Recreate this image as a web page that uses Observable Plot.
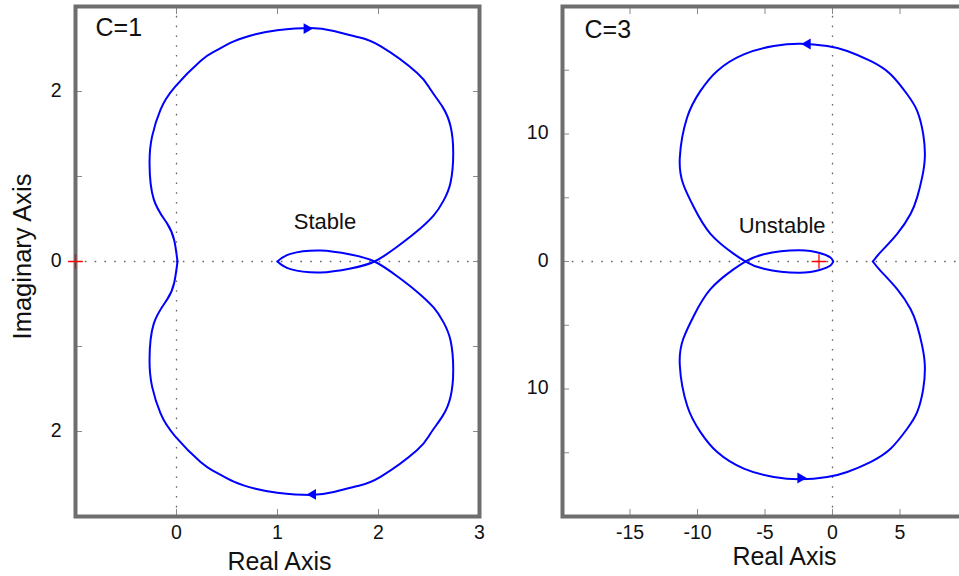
<!DOCTYPE html>
<html>
<head>
<meta charset="utf-8">
<script src="https://cdn.jsdelivr.net/npm/d3@7"></script>
<script src="https://cdn.jsdelivr.net/npm/@observablehq/plot@0.6"></script>
<style>
  html, body { margin: 0; padding: 0; background: #fff; }
  #figure { position: relative; width: 959px; height: 576px; overflow: hidden; background: #fff; }
  #figure > div { position: absolute; top: 0; height: 576px; }
  #figure svg { overflow: visible; max-width: none !important; height: 576px !important; }
</style>
</head>
<body>
<div id="figure">
  <div id="left" style="left:0px; width:490px"></div>
  <div id="right" style="left:480px; width:500px"></div>
</div>
<script>
// Nyquist curve of the loop for C = 1, positive frequencies (from the loop tip to the origin)
const c1Re = [1.0, 1.129, 1.426, 1.723, 1.96, 2.188, 2.366, 2.545, 2.644, 2.713, 2.740, 2.713, 2.634, 2.515, 2.383, 2.020, 1.792, 1.557, 1.327, 0.997, 0.782, 0.567, 0.386, 0.238, -0.015, -0.158, -0.241, -0.267, -0.225, -0.092, -0.022, 0.01];
const c1Im = [0, 0.09, 0.129, 0.082, 0, -0.176, -0.340, -0.540, -0.716, -0.927, -1.279, -1.593, -1.819, -2.023, -2.218, -2.533, -2.641, -2.711, -2.746, -2.720, -2.674, -2.590, -2.477, -2.359, -2.054, -1.788, -1.475, -1.162, -0.731, -0.446, -0.246, 0];

// Nyquist curve for C = 3, positive frequencies (from the kink on the real axis to the loop tip)
const c3Re = [2.99, 3.56, 4.79, 5.78, 6.27, 6.64, 6.84, 6.72, 6.27, 5.53, 4.30, 2.81, 1.09, -0.39, -2.37, -4.35, -6.57, -8.54, -9.78, -10.77, -11.31, -11.06, -10.27, -9.04, -7.31, -6.44, -5.09, -2.49, -0.89, -0.15, 0.05];
const c3Im = [0, 0.73, 2.17, 3.73, 5.03, 6.60, 8.16, 9.99, 11.82, 13.12, 14.69, 15.73, 16.51, 16.90, 17.08, 16.90, 16.25, 14.95, 13.38, 11.29, 8.16, 6.08, 4.25, 2.17, 0.60, 0, -0.57, -0.88, -0.65, -0.31, 0];

// Direction arrows on each curve (angle in degrees, 90 = pointing right)
const c1ArrowRe = [1.29, 1.35];
const c1ArrowIm = [2.74, -2.74];
const c1ArrowAngle = [90, -90];
const c3ArrowRe = [-1.85, -2.37];
const c3ArrowIm = [17.06, -16.98];
const c3ArrowAngle = [-90, 90];

// Critical point -1 + 0j
const criticalRe = [-1];
const criticalIm = [0];

// Axes
const c1XDomain = [-1, 3];
const c1YDomain = [-3, 3];
const c1XTicks = [0, 1, 2, 3];
const c1XTickLabels = ["0", "1", "2", "3"];
const c1YTicks = [2, 1, 0, -1, -2];
const c1YTickLabels = ["2", "", "0", "", "2"];

const c3XDomain = [-20, 10];
const c3YDomain = [-20, 20];
const c3XTicks = [-15, -10, -5, 0, 5];
const c3XTickLabels = ["-15", "-10", "-5", "0", "5"];
const c3YTicks = [15, 10, 5, 0, -5, -10, -15];
const c3YTickLabels = ["", "10", "", "0", "", "10", ""];

// Annotations
const c1Title = "C=1";
const c3Title = "C=3";
const c1Note = {re: 1.47, im: 0.46, text: "Stable"};
const c3Note = {re: -3.73, im: 2.8, text: "Unstable"};
const xLabel = "Real Axis";
const yLabel = "Imaginary Axis";

const FONT = "'Liberation Sans', Arial, Helvetica, sans-serif";
const BLUE = "#0000ff";
const FRAME = "#6e6e6e";
const TICK = "#8a8a8a";
const GRID = "#666666";

// Both frequency branches: the negative one is the complex conjugate
function nyquistRows(re, im) {
  const pos = re.map((r, i) => ({re: r, im: im[i], branch: "pos"}));
  const neg = re.map((r, i) => ({re: r, im: -im[i], branch: "neg"}));
  return pos.concat(neg);
}

function arrows(re, im, angle) {
  return re.map((r, i) => ({re: r, im: im[i], angle: angle[i]}));
}

function panel({width, marginLeft, marginRight, xDomain, yDomain, curve, arrowRows,
                xTicks, xTickLabels, yTicks, yTickLabels, title, titleDx, titleDy,
                note, yAxisLabel, xLabelDx, xLabelDy}) {
  const marks = [
    // dotted zero lines
    Plot.ruleY([0], {stroke: GRID, strokeWidth: 1.3, strokeDasharray: "1.6 8.2"}),
    Plot.ruleX([0], {stroke: GRID, strokeWidth: 1.3, strokeDasharray: "1.6 8.2"}),
    // inward ticks on all four sides
    Plot.axisX(xTicks, {anchor: "bottom", tickSize: 7, dy: -7, stroke: TICK, tickFormat: () => "", label: null}),
    Plot.axisX(xTicks, {anchor: "top", tickSize: 7, dy: 7, stroke: TICK, tickFormat: () => "", label: null}),
    Plot.axisY(yTicks, {anchor: "left", tickSize: 7, dx: 7, stroke: TICK, tickFormat: () => "", label: null}),
    Plot.axisY(yTicks, {anchor: "right", tickSize: 7, dx: -7, stroke: TICK, tickFormat: () => "", label: null}),
    // tick labels
    Plot.text(xTicks, {x: d => d, frameAnchor: "bottom", lineAnchor: "middle", dy: 16, text: (d, i) => xTickLabels[i], fontSize: 19.5, fill: "#111"}),
    Plot.text(yTicks, {y: d => d, frameAnchor: "left", lineAnchor: "middle", dx: -14, dy: -1, textAnchor: "end", text: (d, i) => yTickLabels[i], fontSize: 19.5, fill: "#111"}),
    // Nyquist curve
    Plot.line(curve, {x: "re", y: "im", z: "branch", stroke: BLUE, strokeWidth: 2, curve: "natural"}),
    Plot.dot(arrowRows, {x: "re", y: "im", rotate: "angle", symbol: "triangle2", r: 5.2, fill: BLUE, stroke: "none"}),
    Plot.frame({stroke: FRAME, strokeWidth: 4}),
    Plot.dot(criticalRe.map((r, i) => ({re: r, im: criticalIm[i]})), {x: "re", y: "im", symbol: "plus", r: 4.8, stroke: "#ff0000", strokeWidth: 1.3}),
    // annotations
    Plot.text([title], {frameAnchor: "top-left", lineAnchor: "middle", textAnchor: "start", dx: titleDx, dy: titleDy, fontSize: 25, fill: "#111"}),
    Plot.text([note], {x: "re", y: "im", text: "text", fontSize: 22, fill: "#111"}),
    Plot.text([xLabel], {frameAnchor: "bottom", lineAnchor: "middle", textAnchor: "middle", dx: xLabelDx, dy: xLabelDy, fontSize: 25, fill: "#111"})
  ];
  if (yAxisLabel) {
    marks.push(Plot.text([yAxisLabel], {frameAnchor: "left", lineAnchor: "middle", textAnchor: "middle", dx: -53, dy: -5, rotate: -90, fontSize: 25.5, fill: "#111"}));
  }
  return Plot.plot({
    width, height: 576,
    marginLeft, marginRight, marginTop: 6, marginBottom: 60,
    x: {domain: xDomain},
    y: {domain: yDomain},
    style: {fontFamily: FONT, background: "transparent", overflow: "visible"},
    marks
  });
}

document.getElementById("left").append(panel({
  width: 490, marginLeft: 75, marginRight: 11,
  xDomain: c1XDomain, yDomain: c1YDomain,
  curve: nyquistRows(c1Re, c1Im),
  arrowRows: arrows(c1ArrowRe, c1ArrowIm, c1ArrowAngle),
  xTicks: c1XTicks, xTickLabels: c1XTickLabels,
  yTicks: c1YTicks, yTickLabels: c1YTickLabels,
  title: c1Title, titleDx: 20, titleDy: 21,
  note: c1Note, yAxisLabel: yLabel, xLabelDx: 2, xLabelDy: 45.5
}));

document.getElementById("right").append(panel({
  width: 500, marginLeft: 82, marginRight: 13,
  xDomain: c3XDomain, yDomain: c3YDomain,
  curve: nyquistRows(c3Re, c3Im),
  arrowRows: arrows(c3ArrowRe, c3ArrowIm, c3ArrowAngle),
  xTicks: c3XTicks, xTickLabels: c3XTickLabels,
  yTicks: c3YTicks, yTickLabels: c3YTickLabels,
  title: c3Title, titleDx: 22, titleDy: 23.5,
  note: c3Note, yAxisLabel: null, xLabelDx: 19.5, xLabelDy: 40.5
}));
</script>
</body>
</html>
